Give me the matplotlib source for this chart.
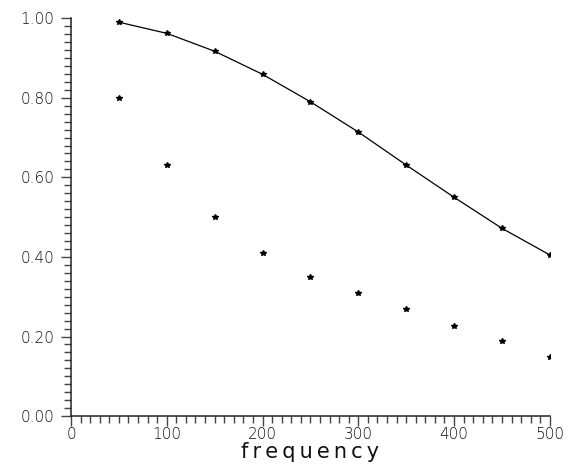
import numpy as np
import matplotlib.pyplot as plt
from matplotlib.ticker import MultipleLocator

# values
freq = [50, 100, 150, 200, 250, 300, 350, 400, 450, 500]
curve = [0.990, 0.962, 0.917, 0.859, 0.790, 0.714, 0.631, 0.550, 0.472, 0.405]
dots = [0.800, 0.630, 0.500, 0.410, 0.350, 0.310, 0.269, 0.226, 0.188, 0.148]

plt.rcParams['font.weight'] = 'light'

fig = plt.figure(figsize=(5.68, 4.67), dpi=100)
ax = fig.add_axes([0.125, 0.109, 0.843, 0.852])

ax.plot(freq, curve, color='black', lw=0.9, marker='*', ms=4)
ax.plot(freq, dots, color='black', lw=0, marker='*', ms=4)

ax.set_xlim(0, 500)
ax.set_ylim(0, 1)
ax.spines['top'].set_visible(False)
ax.spines['right'].set_visible(False)
ax.spines['left'].set_linewidth(1.1)
ax.spines['bottom'].set_linewidth(1.1)
ax.spines['left'].set_color('#222222')
ax.spines['bottom'].set_color('#222222')

ax.xaxis.set_major_locator(MultipleLocator(100))
ax.xaxis.set_minor_locator(MultipleLocator(10))
ax.yaxis.set_major_locator(MultipleLocator(0.2))
ax.yaxis.set_minor_locator(MultipleLocator(0.02))
ax.yaxis.set_major_formatter(plt.FormatStrFormatter('%.2f'))

ax.tick_params(which='major', length=7, width=1.0, color='#444444',
               labelsize=11, labelcolor='#111111', pad=5)
ax.tick_params(which='minor', length=5, width=1.0, color='#444444')
ax.tick_params(axis='x', pad=1)

ax.set_xlabel('\u2009'.join('frequency'), fontsize=15, color='#111111')
ax.xaxis.set_label_coords(0.5, -0.066)

plt.savefig('out.png', dpi=100)
